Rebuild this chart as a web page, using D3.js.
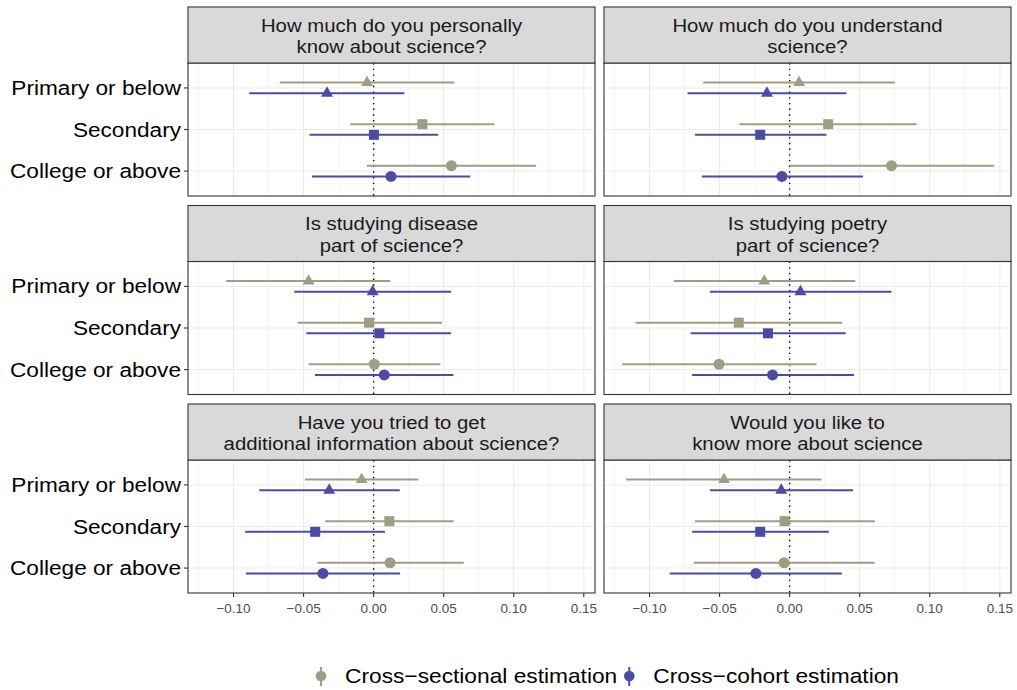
<!DOCTYPE html>
<meta charset="utf-8">
<style>
  body { margin: 0; background: #fff; }
  svg text { font-family: "Liberation Sans", Arial, sans-serif; }
</style>
<script src="https://d3js.org/d3.v7.min.js"></script>
<div id="chart"></div>
<script>
// categories and facet titles
var categories = ["Primary or below", "Secondary", "College or above"];
var questions = [
  ["How much do you personally", "know about science?"],
  ["How much do you understand", "science?"],
  ["Is studying disease", "part of science?"],
  ["Is studying poetry", "part of science?"],
  ["Have you tried to get", "additional information about science?"],
  ["Would you like to", "know more about science"]
];
var seriesNames = ["Cross\u2212sectional estimation", "Cross\u2212cohort estimation"];
var xTicks = [-0.10, -0.05, 0.00, 0.05, 0.10, 0.15];

// cross-sectional estimation, one row per question: [primary, secondary, college]
var csEst  = [[-0.0047, 0.0348, 0.0555], [0.0067, 0.0275, 0.0727], [-0.0464, -0.0033, 0.0005],
              [-0.0181, -0.0363, -0.0504], [-0.0086, 0.0112, 0.0117], [-0.0468, -0.0036, -0.0040]];
var csLow  = [[-0.0670, -0.0166, -0.0048], [-0.0617, -0.0359, 0.0000], [-0.1052, -0.0543, -0.0464],
              [-0.0827, -0.1100, -0.1195], [-0.0490, -0.0345, -0.0402], [-0.1167, -0.0676, -0.0684]];
var csHigh = [[0.0576, 0.0862, 0.1160], [0.0753, 0.0907, 0.1460], [0.0119, 0.0488, 0.0476],
              [0.0469, 0.0376, 0.0192], [0.0319, 0.0571, 0.0643], [0.0227, 0.0608, 0.0608]];

// cross-cohort estimation
var ccEst  = [[-0.0333, 0.0002, 0.0124], [-0.0162, -0.0210, -0.0055], [-0.0007, 0.0041, 0.0076],
              [0.0077, -0.0155, -0.0122], [-0.0317, -0.0417, -0.0362], [-0.0060, -0.0210, -0.0241]];
var ccLow  = [[-0.0888, -0.0457, -0.0440], [-0.0729, -0.0676, -0.0626], [-0.0567, -0.0481, -0.0419],
              [-0.0569, -0.0707, -0.0696], [-0.0816, -0.0917, -0.0912], [-0.0569, -0.0696, -0.0856]];
var ccHigh = [[0.0219, 0.0460, 0.0690], [0.0405, 0.0263, 0.0524], [0.0553, 0.0553, 0.0569],
              [0.0727, 0.0400, 0.0459], [0.0186, 0.0081, 0.0189], [0.0452, 0.0280, 0.0373]];

var colours = ["#9e9e85", "#4b4ba5"];
var shapes = [d3.symbolTriangle, d3.symbolSquare, d3.symbolCircle];
var shapeSizes = [62, 100, 95];

var W = 1017, H = 690;
var colLeft = [188, 604], panelW = 407;
var stripTop = [7, 205.5, 404], stripH = 56, panelH = 133;

var svg = d3.select("#chart").append("svg")
  .attr("width", W).attr("height", H);

var x = d3.scaleLinear().domain([-0.1325, 0.158]).range([0, panelW]);
var y = d3.scalePoint().domain(categories).range([0, panelH]).padding(0.6);
var dodge = y.step() * 0.128;

// text with a horizontal stretch
function stext(g, tx, ty, str, size, sx, anchor, fill) {
  return g.append("text")
    .attr("transform", "translate(" + tx + "," + ty + ") scale(" + sx + ",1)")
    .attr("font-size", size)
    .attr("text-anchor", anchor)
    .attr("fill", fill)
    .text(str);
}

questions.forEach(function(q, qi) {
  var col = qi % 2, row = Math.floor(qi / 2);
  var g = svg.append("g")
    .attr("transform", "translate(" + colLeft[col] + "," + (stripTop[row] + stripH) + ")");

  // strip
  var sg = svg.append("g")
    .attr("transform", "translate(" + colLeft[col] + "," + stripTop[row] + ")");
  sg.append("rect").attr("width", panelW).attr("height", stripH)
    .attr("fill", "#d9d9d9").attr("stroke", "#333").attr("stroke-width", 1.1);
  q.forEach(function(line, li) {
    stext(sg, panelW / 2, 24.5 + li * 21.5, line, 18.5, 1.1, "middle", "#1a1a1a");
  });

  // grid
  var minor = d3.range(-0.125, 0.16, 0.05);
  g.selectAll(".minor").data(minor).enter().append("line")
    .attr("x1", d => x(d)).attr("x2", d => x(d))
    .attr("y1", 0).attr("y2", panelH)
    .attr("stroke", "#ebebeb").attr("stroke-width", 0.6);
  g.selectAll(".major").data(xTicks).enter().append("line")
    .attr("x1", d => x(d)).attr("x2", d => x(d))
    .attr("y1", 0).attr("y2", panelH)
    .attr("stroke", "#ebebeb").attr("stroke-width", 1.1);
  g.selectAll(".hgrid").data(categories).enter().append("line")
    .attr("x1", 0).attr("x2", panelW)
    .attr("y1", d => y(d)).attr("y2", d => y(d))
    .attr("stroke", "#ebebeb").attr("stroke-width", 1.1);

  // zero line
  g.append("line")
    .attr("x1", x(0)).attr("x2", x(0)).attr("y1", 0).attr("y2", panelH)
    .attr("stroke", "#000").attr("stroke-width", 1.4)
    .attr("stroke-dasharray", "1.4,4.3");

  // series
  var series = [
    {est: csEst[qi], lo: csLow[qi], hi: csHigh[qi], off: -dodge, c: colours[0]},
    {est: ccEst[qi], lo: ccLow[qi], hi: ccHigh[qi], off: dodge, c: colours[1]}
  ];
  series.forEach(function(s) {
    categories.forEach(function(cat, ci) {
      var yy = y(cat) + s.off;
      g.append("line")
        .attr("x1", x(s.lo[ci])).attr("x2", x(s.hi[ci]))
        .attr("y1", yy).attr("y2", yy)
        .attr("stroke", s.c).attr("stroke-width", 2);
      g.append("path")
        .attr("d", d3.symbol().type(shapes[ci]).size(shapeSizes[ci])())
        .attr("transform", "translate(" + x(s.est[ci]) + "," + yy + ")")
        .attr("fill", s.c);
    });
  });

  // border
  g.append("rect").attr("width", panelW).attr("height", panelH)
    .attr("fill", "none").attr("stroke", "#333").attr("stroke-width", 1.1);

  // y axis on left column
  if (col === 0) {
    categories.forEach(function(cat) {
      g.append("line").attr("x1", -4).attr("x2", 0)
        .attr("y1", y(cat)).attr("y2", y(cat))
        .attr("stroke", "#333").attr("stroke-width", 1.1);
      stext(g, -7, y(cat) + 7, cat, 19.5, 1.16, "end", "#000");
    });
  }

  // x axis on bottom row
  if (row === 2) {
    xTicks.forEach(function(t) {
      g.append("line").attr("x1", x(t)).attr("x2", x(t))
        .attr("y1", panelH).attr("y2", panelH + 4)
        .attr("stroke", "#333").attr("stroke-width", 1.1);
      stext(g, x(t), panelH + 20, d3.format(".2f")(t).replace("-", "\u2212"), 13.5, 1.0, "middle", "#4d4d4d");
    });
  }
});

// legend
var lg = svg.append("g").attr("transform", "translate(0,676)");
var lx = 321;
seriesNames.forEach(function(name, i) {
  lg.append("line").attr("x1", lx).attr("x2", lx).attr("y1", -9).attr("y2", 10)
    .attr("stroke", colours[i]).attr("stroke-width", 2);
  lg.append("circle").attr("cx", lx).attr("cy", 0).attr("r", 5.3).attr("fill", colours[i]);
  var t = stext(lg, lx + 24, 7, name, 20.3, 1.12, "start", "#000");
  var w = t.node().getComputedTextLength() * 1.12;
  lx = lx + 24 + w + 12;
});
</script>
